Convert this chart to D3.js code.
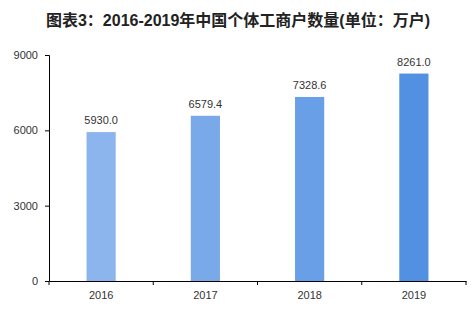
<!DOCTYPE html>
<html>
<head>
<meta charset="utf-8">
<script src="https://cdn.jsdelivr.net/npm/d3@7"></script>
<style>
  body { margin: 0; background: #fff; }
  text { font-family: "Liberation Sans", "Noto Sans CJK SC", sans-serif; }
</style>
</head>
<body>
<div id="canvas"></div>
<script>
"use strict"

/* data */
let years = ["2016", "2017", "2018", "2019"];
let counts = [5930.0, 6579.4, 7328.6, 8261.0];
let barColors = ["#8cb4ed", "#7aa9ea", "#699fe6", "#5290e1"];
let yTicks = [0, 3000, 6000, 9000];

/* drawing size */
let svgWidth = 475;
let svgHeight = 318;
let leftMargin = 49;
let rightMargin = 9;
let topMargin = 55;
let bottomMargin = 37;

let svg = d3.select("#canvas")
    .append("svg")
    .attr("width", svgWidth)
    .attr("height", svgHeight);

/* title */
svg.append("text")
    .attr("x", 238)
    .attr("y", 26)
    .attr("text-anchor", "middle")
    .attr("font-size", 16)
    .attr("font-weight", "bold")
    .attr("fill", "#222")
    .attr("font-family", "'Noto Sans CJK SC', sans-serif")
    .text("图表3：2016-2019年中国个体工商户数量(单位：万户)");

let xScale = d3.scaleBand()
    .domain(years)
    .range([leftMargin, svgWidth - rightMargin])
    .paddingInner(0.72)
    .paddingOuter(0.36);

let yScale = d3.scaleLinear()
    .domain([0, 9000])
    .range([svgHeight - bottomMargin, topMargin]);

/* bars */
svg.selectAll("rect.bar")
    .data(counts)
    .join("rect")
    .attr("class", "bar")
    .attr("x", function (d, i) { return xScale(years[i]); })
    .attr("y", function (d) { return yScale(d); })
    .attr("width", xScale.bandwidth())
    .attr("height", function (d) { return yScale(0) - yScale(d); })
    .attr("fill", function (d, i) { return barColors[i]; });

/* value labels */
svg.selectAll("text.val")
    .data(counts)
    .join("text")
    .attr("class", "val")
    .attr("x", function (d, i) { return xScale(years[i]) + xScale.bandwidth() / 2; })
    .attr("y", function (d) { return yScale(d) - 8; })
    .attr("text-anchor", "middle")
    .attr("font-size", 11)
    .attr("fill", "#333")
    .text(function (d) { return d.toFixed(1); });

/* y axis */
let yAxis = svg.append("g")
    .attr("transform", `translate(${leftMargin},0)`)
    .call(d3.axisLeft(yScale).tickValues(yTicks).tickFormat(d3.format("d")).tickSize(4).tickPadding(7));
yAxis.select(".domain").attr("stroke", "#000");
yAxis.selectAll(".tick line").attr("stroke", "#000");
yAxis.selectAll("text").attr("font-size", 11).attr("fill", "#333")
    .attr("font-family", "'Liberation Sans', sans-serif");

/* x axis, ticks between categories */
let xAxis = svg.append("g")
    .attr("transform", `translate(0,${svgHeight - bottomMargin})`)
    .call(d3.axisBottom(xScale).tickSize(0).tickPadding(10));
xAxis.select(".domain").attr("stroke", "#000");
xAxis.selectAll("text").attr("font-size", 11).attr("fill", "#333")
    .attr("font-family", "'Liberation Sans', sans-serif");

let step = xScale.step();
let edges = d3.range(years.length + 1).map(function (i) {
    return xScale(years[0]) - xScale.step() * xScale.paddingOuter() + i * step;
});
svg.selectAll("line.sep")
    .data(edges)
    .join("line")
    .attr("class", "sep")
    .attr("x1", function (d) { return d; })
    .attr("x2", function (d) { return d; })
    .attr("y1", svgHeight - bottomMargin)
    .attr("y2", svgHeight - bottomMargin + 4)
    .attr("stroke", "#000");
</script>
</body>
</html>
